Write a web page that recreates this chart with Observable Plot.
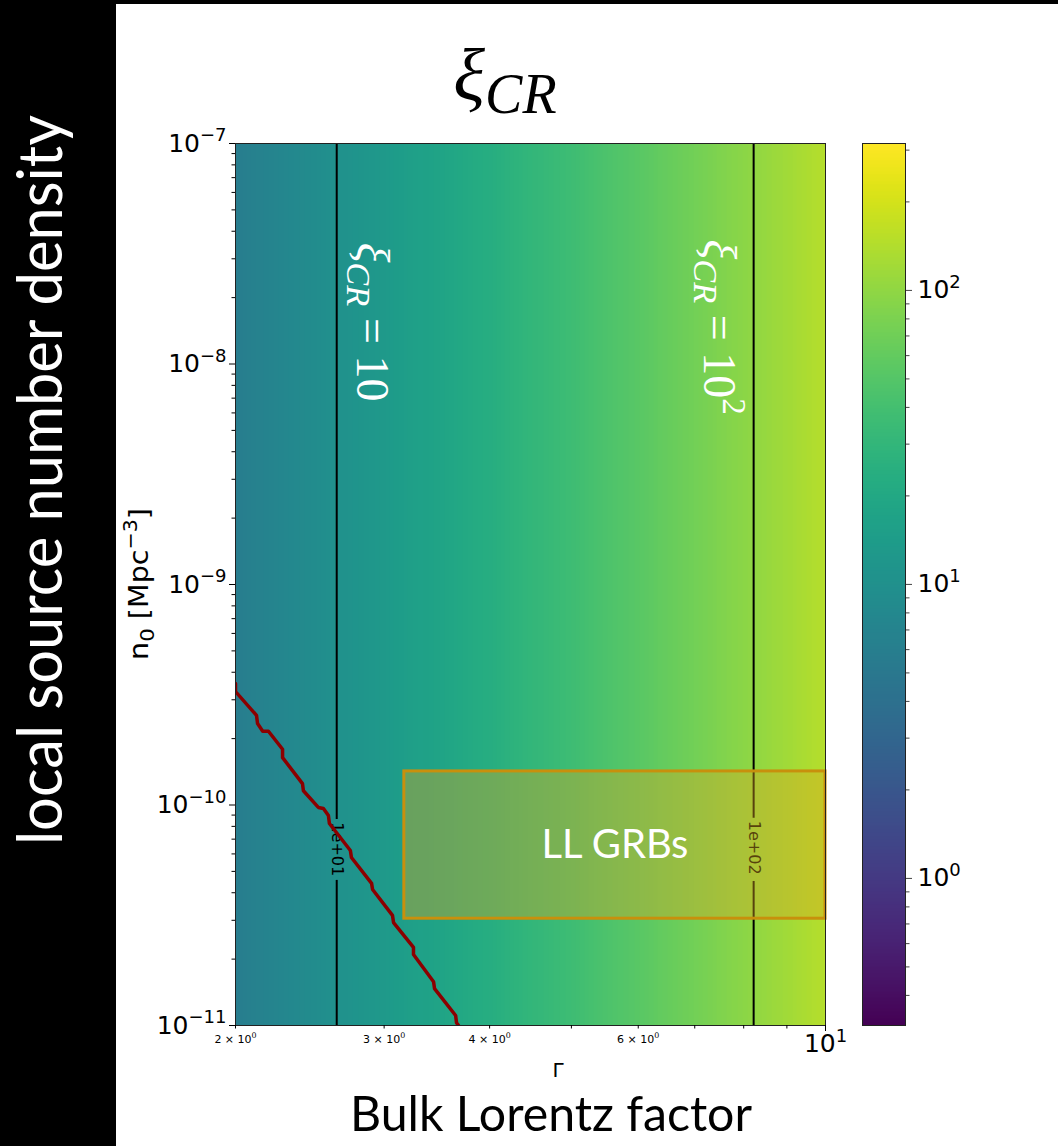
<!DOCTYPE html>
<html><head><meta charset="utf-8">
<script src="https://cdn.jsdelivr.net/npm/d3@7"></script>
<script src="https://cdn.jsdelivr.net/npm/@observablehq/plot@0.6"></script>
<style>
body{margin:0;background:#fff;}
#root{position:relative;width:1058px;height:1146px;overflow:hidden;background:#fff;}
#root > svg{position:absolute;}
</style></head><body><div id="root"></div>
<script>
// ---------- data ----------
const gammaDomain = [2, 10];
const n0Domain = [1e-11, 1e-7];
const colorDomain = [0.316, 316];

const xiGamma  = [2, 2.5, 3, 3.5, 4, 5, 6, 7, 8, 9, 10];
const xiValues = [5.7, 9.0, 13.0, 17.7, 23.2, 36.5, 52.7, 71.9, 94.3, 119, 147];

const contourGamma   = [2.636, 8.22];
const contourText    = ["1e+01", "1e+02"];
const contourGapLow  = [4.55e-11, 4.5e-11];
const contourGapHigh = [8.6e-11, 8.7e-11];
const contourLabelN0 = [6.3e-11, 6.4e-11];

const redGamma = [2.0, 2.0, 2.118, 2.124, 2.154, 2.188, 2.274, 2.274, 2.401, 2.407, 2.507, 2.542, 2.577, 2.584, 2.736, 2.744, 2.899, 2.907, 3.069, 3.078, 3.25, 3.25, 3.433, 3.442, 3.646, 3.655, 3.675];
const redN0    = [3.56e-10, 3.27e-10, 2.55e-10, 2.34e-10, 2.16e-10, 2.16e-10, 1.79e-10, 1.64e-10, 1.25e-10, 1.16e-10, 9.75e-11, 9.65e-11, 8.95e-11, 8.24e-11, 6.22e-11, 5.78e-11, 4.41e-11, 4.14e-11, 3.16e-11, 2.93e-11, 2.26e-11, 2.10e-11, 1.58e-11, 1.47e-11, 1.11e-11, 1.03e-11, 1.0e-11];

const boxGamma = [3.17, 10];
const boxN0    = [3.05e-11, 1.42e-10];
const boxText  = "LL GRBs";

const annGamma = [2.9, 7.47];
const annN0    = [1.55e-8, 1.47e-8];
const annText  = ["/{ξ}_{CR} = 10", "/{ξ}_{CR} = 10^{2}"];

const yMajor = [1e-11, 1e-10, 1e-9, 1e-8, 1e-7];
const yMinorMult = [2, 3, 4, 5, 6, 7, 8, 9];
const xLabeled = [2, 3, 4, 6];
const xMajor = [10];
const xMinorOnly = [5, 7, 8, 9];
const cbMajor = [1, 10, 100];
const cbMinor = [0.4, 0.5, 0.6, 0.7, 0.8, 0.9, 2, 3, 4, 5, 6, 7, 8, 9, 20, 30, 40, 50, 60, 70, 80, 90, 200, 300];

const titleMain = "ξ", titleSub = "CR";
const xLabel = "Γ";
const yLabel = "n_{0} [Mpc^{−3}]";
const bottomLabel = "Bulk Lorentz factor";
const leftLabel = "local source number density";

// ---------- helpers ----------
const powFmt = d => "10^{" + String(Math.round(Math.log10(d))).replace("-", "−") + "}";
const minorFmt = d => d + " × 10^{0}";
const NS = "http://www.w3.org/2000/svg";
function richify(el) {
  const s = el.textContent;
  if (!/[\^_\/]\{/.test(s)) return;
  const fs = parseFloat(getComputedStyle(el).fontSize) || 16;
  const parts = s.split(/([\^_\/]\{[^}]*\})/).filter(p => p);
  el.textContent = "";
  let off = 0;
  for (const p of parts) {
    const t = document.createElementNS(NS, "tspan");
    let target = 0, txt = p;
    if (p.startsWith("^{")) { txt = p.slice(2, -1); target = -0.42 * fs; t.setAttribute("font-size", (0.72 * fs) + "px"); }
    else if (p.startsWith("_{")) { txt = p.slice(2, -1); target = 0.22 * fs; t.setAttribute("font-size", (0.75 * fs) + "px");
      if (/^[A-Za-z]+$/.test(txt)) t.setAttribute("font-style", "italic"); }
    else if (p.startsWith("/{")) { txt = p.slice(2, -1); t.setAttribute("font-style", "italic"); }
    t.setAttribute("dy", (target - off) + "px");
    off = target;
    t.textContent = txt;
    el.appendChild(t);
  }
}

const root = document.getElementById("root");

// ---------- main plot ----------
const heat = xiGamma.flatMap((g, i) => n0Domain.map(n => ({g, n, xi: xiValues[i]})));
const contourSegs = contourGamma.flatMap((g, i) => [
  {g, a: n0Domain[0], b: contourGapLow[i]},
  {g, a: contourGapHigh[i], b: n0Domain[1]}
]);
const contourLabels = contourGamma.map((g, i) => ({g, n: contourLabelN0[i], t: contourText[i]}));
const red = redGamma.map((g, i) => ({g, n: redN0[i]}));
const anns = annGamma.map((g, i) => ({g, n: annN0[i], t: annText[i]}));
const yMinor = yMajor.slice(0, -1).flatMap(d => yMinorMult.map(m => m * d));

const heatMark = (typeof Plot.raster === "function")
  ? Plot.raster(heat, {x: "g", y: "n", fill: "xi", interpolate: "barycentric",
      x1: gammaDomain[0], x2: gammaDomain[1], y1: n0Domain[0], y2: n0Domain[1]})
  : Plot.rect(xiGamma.slice(0, -1).map((g, i) => ({g1: g, g2: xiGamma[i + 1], xi: xiValues[i]})),
      {x1: "g1", x2: "g2", y1: n0Domain[0], y2: n0Domain[1], fill: "xi"});

const main = Plot.plot({
  width: 730, height: 1000,
  marginLeft: 115, marginRight: 25, marginTop: 43, marginBottom: 75,
  style: {fontFamily: "DejaVu Sans, sans-serif", fontSize: "22px", background: "transparent", overflow: "visible", color: "black"},
  x: {type: "log", domain: gammaDomain},
  y: {type: "log", domain: n0Domain},
  color: {type: "log", scheme: "viridis", domain: colorDomain},
  marks: [
    heatMark,
    Plot.ruleX(contourSegs, {x: "g", y1: "a", y2: "b", stroke: "black", strokeWidth: 2}),
    Plot.text(contourLabels, {x: "g", y: "n", text: "t", rotate: 90, fill: "black", fontSize: 16, fontFamily: "DejaVu Sans"}),
    Plot.line(red, {x: "g", y: "n", stroke: "#8b0000", strokeWidth: 3.5, clip: true}),
    Plot.rect([0], {x1: boxGamma[0], x2: boxGamma[1], y1: boxN0[0], y2: boxN0[1], fill: "goldenrod", fillOpacity: 0.4, stroke: "#c8900c", strokeWidth: 3}),
    Plot.text([0], {x: Math.sqrt(boxGamma[0] * boxGamma[1]), y: Math.sqrt(boxN0[0] * boxN0[1]), text: () => boxText, fill: "white", fontSize: 40, fontFamily: "Lato, Open Sans, sans-serif"}),
    Plot.text(anns, {x: "g", y: "n", text: "t", rotate: 90, fill: "white", fontSize: 46, fontFamily: "Liberation Serif, serif"}),
    Plot.frame({stroke: "#222", strokeWidth: 1}),
    Plot.axisY(yMajor, {tickSize: 6, tickPadding: 3, tickFormat: powFmt, fontSize: 25, label: null}),
    Plot.axisY(yMinor, {tickSize: 3.5, tickFormat: () => "", label: null}),
    Plot.axisX(xLabeled, {tickSize: 3.5, tickPadding: 6, tickFormat: minorFmt, fontSize: 11, label: null}),
    Plot.axisX(xMinorOnly, {tickSize: 3.5, tickFormat: () => "", label: null}),
    Plot.axisX(xMajor, {tickSize: 6, tickPadding: 3, tickFormat: powFmt, fontSize: 25, label: null})
  ]
});
main.style.left = "120px"; main.style.top = "100px";
root.appendChild(main);

// ---------- colorbar ----------
const cb = Plot.plot({
  width: 180, height: 1000,
  marginLeft: 22, marginRight: 115, marginTop: 43, marginBottom: 75,
  style: {fontFamily: "DejaVu Sans, sans-serif", fontSize: "22px", background: "transparent", overflow: "visible", color: "black"},
  x: {domain: [0, 1], axis: null},
  y: {type: "log", domain: colorDomain},
  color: {type: "log", scheme: "viridis", domain: colorDomain},
  marks: [
    Plot.raster({fill: (x, y) => y, x1: 0, x2: 1, y1: colorDomain[0], y2: colorDomain[1]}),
    Plot.frame({stroke: "#222", strokeWidth: 1}),
    Plot.axisY(cbMajor, {anchor: "right", tickSize: 6, tickPadding: 6, tickFormat: powFmt, fontSize: 25, label: null, stroke: "#444"}),
    Plot.axisY(cbMinor, {anchor: "right", tickSize: 3.5, tickFormat: () => "", label: null, stroke: "#444"})
  ]
});
cb.style.left = "840px"; cb.style.top = "100px";
root.appendChild(cb);

// ---------- overlay texts ----------
const ov = d3.select(root).append("svg").attr("width", 1058).attr("height", 1146)
  .style("left", "0px").style("top", "0px").style("pointer-events", "none");
ov.append("rect").attr("x", 0).attr("y", 0).attr("width", 116).attr("height", 1146).attr("fill", "black");
ov.append("rect").attr("x", 0).attr("y", 0).attr("width", 1058).attr("height", 4).attr("fill", "black");

const title = ov.append("text").attr("x", 505).attr("y", 100).attr("text-anchor", "middle")
  .attr("font-family", "Liberation Serif, serif").attr("font-style", "italic");
title.append("tspan").attr("font-size", 74).text(titleMain);
title.append("tspan").attr("font-size", 56).attr("dy", 13).text(titleSub);

ov.append("text").attr("transform", "translate(62,480) rotate(-90)").attr("text-anchor", "middle")
  .attr("font-family", "Lato, Open Sans, sans-serif").attr("font-size", 62).attr("fill", "white")
  .attr("textLength", 730).attr("lengthAdjust", "spacingAndGlyphs").text(leftLabel);

ov.append("text").attr("x", 350).attr("y", 1131)
  .attr("font-family", "Lato, Open Sans, sans-serif").attr("font-size", 48).attr("fill", "black")
  .attr("textLength", 402).attr("lengthAdjust", "spacingAndGlyphs").text(bottomLabel);

ov.append("text").attr("x", 558).attr("y", 1077).attr("text-anchor", "middle")
  .attr("font-family", "DejaVu Sans, sans-serif").attr("font-size", 20).text(xLabel);

ov.append("text").attr("transform", "translate(148,584) rotate(-90)").attr("text-anchor", "middle")
  .attr("font-family", "DejaVu Sans, sans-serif").attr("font-size", 27).attr("fill", "black")
  .attr("textLength", 152).attr("lengthAdjust", "spacingAndGlyphs").text(yLabel);

// rich text (superscripts / subscripts / italics)
document.querySelectorAll("#root svg text").forEach(richify);
</script></body></html>
